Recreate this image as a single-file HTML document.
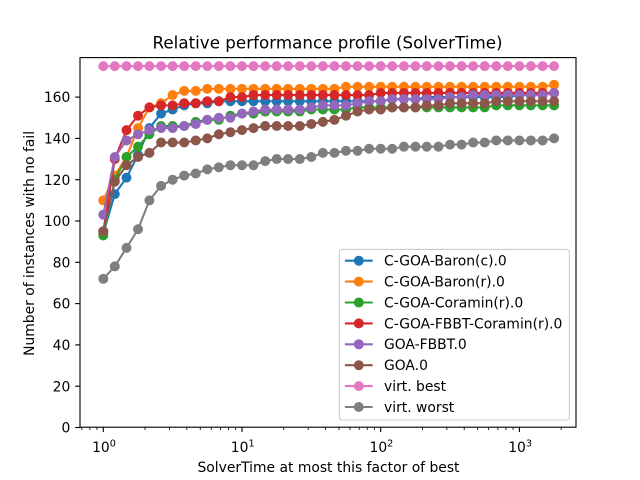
<!DOCTYPE html>
<html>
<head>
<meta charset="utf-8">
<style>
html,body{margin:0;padding:0;background:#fff;}
svg{display:block;font-family:"DejaVu Sans","Liberation Sans",sans-serif;}
text{fill:#000;}
</style>
</head>
<body>
<svg id="chart" width="640" height="480" viewBox="0 0 640 480" xmlns="http://www.w3.org/2000/svg">
<rect x="0" y="0" width="640" height="480" fill="#fff"/>
<text x="152.5" y="48.5" font-size="16.67" textLength="350" lengthAdjust="spacing">Relative performance profile (SolverTime)</text>
<text x="328.5" y="472" font-size="13.89" text-anchor="middle">SolverTime at most this factor of best</text>
<text x="0" y="0" font-size="13.89" text-anchor="middle" transform="translate(34 243.4) rotate(-90)">Number of instances with no fail</text>
<g id="ticks"></g>
<g id="series"></g>
<rect x="80" y="57.6" width="496" height="369.6" fill="none" stroke="#000" stroke-width="1.11"/>
<g id="legend">
<rect x="339.4" y="249.4" width="230" height="170.6" rx="2.8" ry="2.8" fill="#fff" fill-opacity="0.8" stroke="#ccc" stroke-width="1.11"/>
</g>
</svg>
<script>
var factors = [1,1.21,1.47,1.78,2.15,2.61,3.16,3.83,4.64,5.62,6.81,8.25,10,12.1,14.7,17.8,21.5,26.1,31.6,38.3,46.4,56.2,68.1,82.5,100,121,147,178,215,261,316,383,464,562,681,825,1000,1210,1470,1778];
var seriesNames = ["C-GOA-Baron(c).0","C-GOA-Baron(r).0","C-GOA-Coramin(r).0","C-GOA-FBBT-Coramin(r).0","GOA-FBBT.0","GOA.0","virt. best","virt. worst"];
var seriesColors = ["#1f77b4","#ff7f0e","#2ca02c","#d62728","#9467bd","#8c564b","#e377c2","#7f7f7f"];
var baronC = [94,113,121,132,145,152,154,156,157,157,158,158,158,158,158,158,158,158,158,158,158,158,158,158,158,159,159,159,160,160,160,160,160,160,160,160,161,161,161,162];
var baronR = [110,122,131,145,155,157,161,163,163,164,164,164,164,164,164,164,164,164,164,164,164,165,165,165,165,165,165,165,165,165,165,165,165,165,165,165,165,165,165,166];
var coramin = [93,120,131,136,142,146,146,146,148,149,149,151,152,152,153,153,153,153,154,154,154,154,155,155,155,155,155,155,155,155,155,155,155,155,156,156,156,156,156,156];
var fbbtCoramin = [95,130,144,151,155,156,156,157,157,158,158,160,160,161,161,161,161,161,161,161,161,161,161,161,162,162,162,162,162,162,162,162,162,162,162,162,162,162,162,162];
var goaFbbt = [103,131,139,142,144,145,145,146,147,149,150,150,152,153,154,154,154,154,155,156,156,156,157,158,158,159,159,159,159,159,160,160,161,161,161,161,161,161,161,162];
var goa = [95,119,127,131,133,138,138,138,139,140,142,143,144,145,146,146,146,146,147,148,149,151,153,154,154,155,155,155,156,156,157,157,157,157,158,158,158,158,158,158];
var virtBest = [175,175,175,175,175,175,175,175,175,175,175,175,175,175,175,175,175,175,175,175,175,175,175,175,175,175,175,175,175,175,175,175,175,175,175,175,175,175,175,175];
var virtWorst = [72,78,87,96,110,117,120,122,123,125,126,127,127,127,129,130,130,130,131,133,133,134,134,135,135,135,136,136,136,136,137,137,138,138,139,139,139,139,139,140];
var allSeries = [baronC,baronR,coramin,fbbtCoramin,goaFbbt,goa,virtBest,virtWorst];
var yTickValues = [0,20,40,60,80,100,120,140,160];
var xTickExponents = [0,1,2,3];
var xMinorValues = [0.7,0.8,0.9,2,3,4,5,6,7,8,9,20,30,40,50,60,70,80,90,200,300,400,500,600,700,800,900,2000];

var NS = "http://www.w3.org/2000/svg";
function xScale(v){ return 103.3 + 138.7 * Math.log10(v); }
function yScale(v){ return 427.5 - 2.065 * v; }
function make(tag, attrs, parent){
  var el = document.createElementNS(NS, tag);
  for (var k in attrs) el.setAttribute(k, attrs[k]);
  parent.appendChild(el);
  return el;
}
var tickGroup = document.getElementById("ticks");
yTickValues.forEach(function(v){
  var y = yScale(v);
  var t = make("line", {x1:75.14, x2:80, y1:y, y2:y, stroke:"#000", "stroke-width":1.11}, tickGroup);
  
  
  var l = make("text", {x:70.3, y:y+5.05, "font-size":13.89, "text-anchor":"end"}, tickGroup);
  
  
  l.textContent = String(v);
});
xTickExponents.forEach(function(e){
  var x = xScale(Math.pow(10, e));
  var t = make("line", {x1:x, x2:x, y1:427.2, y2:432.06, stroke:"#000", "stroke-width":1.11}, tickGroup);
  
  
  var l = make("text", {x:x-11.2, y:452, "font-size":13.89}, tickGroup);
  
  
  l.appendChild(document.createTextNode("10"));
  var s = make("tspan", {dy:-5.5, "font-size":9.72}, l);
  s.textContent = String(e);
});
xMinorValues.forEach(function(v){
  var x = xScale(v);
  var t = make("line", {x1:x, x2:x, y1:427.2, y2:429.98, stroke:"#000", "stroke-width":0.83}, tickGroup);
  
  
});
var seriesGroup = document.getElementById("series");
allSeries.forEach(function(values, i){
  var g = make("g", {}, seriesGroup);
  
  
  var pts = values.map(function(v, j){ return xScale(factors[j]).toFixed(2) + "," + yScale(v).toFixed(2); }).join(" ");
  var line = make("polyline", {points:pts, fill:"none", stroke:seriesColors[i], "stroke-width":2.08, "stroke-linejoin":"round"}, g);
  
  
  values.forEach(function(v, j){
    var c = make("circle", {cx:xScale(factors[j]), cy:yScale(v), r:4.3, fill:seriesColors[i], stroke:seriesColors[i], "stroke-width":1.39}, g);
    
    
  });
});
var legendGroup = document.getElementById("legend");
seriesNames.forEach(function(name, i){
  var y = 260.7 + 20.9 * i;
  var g = make("g", {}, legendGroup);
  
  
  var ln = make("line", {x1:344.9, x2:372.7, y1:y, y2:y, stroke:seriesColors[i], "stroke-width":2.08}, g);
  
  
  var mk = make("circle", {cx:358.8, cy:y, r:4.3, fill:seriesColors[i], stroke:seriesColors[i], "stroke-width":1.39}, g);
  
  
  var tx = make("text", {x:384, y:y+4.9, "font-size":13.89}, g);
  
  
  tx.textContent = name;
});
</script>
</body>
</html>
